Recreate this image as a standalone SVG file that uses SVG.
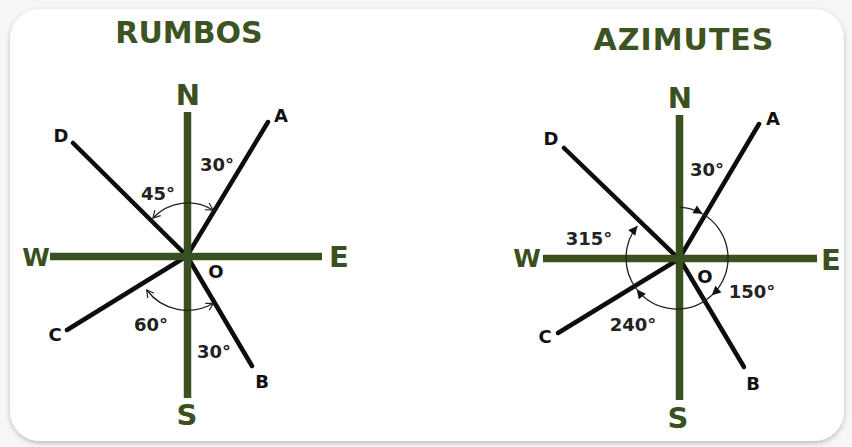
<svg xmlns="http://www.w3.org/2000/svg" width="852" height="447" viewBox="0 0 852 447">
  <defs>
    <filter id="sh" x="-5%" y="-5%" width="110%" height="110%">
      <feDropShadow dx="0" dy="2" stdDeviation="2.5" flood-color="#000" flood-opacity="0.25"/>
    </filter>
    <marker id="openArrow" markerUnits="userSpaceOnUse" markerWidth="12" markerHeight="12" viewBox="-9 -6 12 12" refX="0" refY="0" orient="auto-start-reverse">
      <path d="M-7,-4 L0,0 L-7,4" fill="none" stroke="#222" stroke-width="1.2"/>
    </marker>
    <marker id="fillArrow" markerUnits="userSpaceOnUse" markerWidth="12" markerHeight="12" viewBox="-10 -6 12 12" refX="0" refY="0" orient="auto">
      <path d="M-9,-4.5 L0,0 L-9,4.5 Z" fill="#111"/>
    </marker>
  </defs>
  <style>
    .axis { stroke: #3b5020; stroke-width: 7.5; fill: none; }
    .ray { stroke: #0d0d0d; stroke-width: 4.5; stroke-linecap: round; fill: none; }
    .arc { stroke: #222; stroke-width: 1.3; fill: none; }
    .title { font-family: "DejaVu Sans", sans-serif; font-weight: bold; font-size: 30px; fill: #3d5322; text-anchor: middle; }
    .card { font-family: "DejaVu Sans", sans-serif; font-weight: bold; font-size: 29px; fill: #3b5020; text-anchor: middle; }
    .pt { font-family: "DejaVu Sans", sans-serif; font-weight: bold; font-size: 18px; fill: #111; text-anchor: middle; }
    .deg { font-family: "DejaVu Sans", sans-serif; font-weight: bold; font-size: 18px; fill: #222; text-anchor: middle; }
  </style>

  <rect x="0" y="0" width="852" height="447" fill="#f6f6f6"/>
  <rect x="10" y="9" width="834" height="432" rx="30" ry="30" fill="#ffffff" filter="url(#sh)"/>

  <!-- Left diagram: RUMBOS -->
  <g id="rumbos">
    <text class="title" x="189" y="43">RUMBOS</text>
    <g id="rumbos-connectors">
      <line class="ray" x1="187" y1="256" x2="268" y2="122"/>
      <line class="ray" x1="73" y1="143" x2="187" y2="256"/>
      <line class="ray" x1="67" y1="330" x2="187" y2="256"/>
      <line class="ray" x1="187" y1="256" x2="252" y2="366"/>
      <line class="axis" x1="187.5" y1="112" x2="187.5" y2="398"/>
      <line class="axis" x1="50" y1="256.5" x2="322" y2="256.5"/>
      <path class="arc" d="M153,218 A48,48 0 0 1 213,210" marker-start="url(#openArrow)" marker-end="url(#openArrow)"/>
      <path class="arc" d="M146.7,290 A51,51 0 0 0 213.3,303.3" marker-start="url(#openArrow)" marker-end="url(#openArrow)"/>
    </g>
    <g id="rumbos-labels">
      <text class="card" x="188" y="105">N</text>
      <text class="card" x="187" y="425">S</text>
      <text class="card" x="339" y="267">E</text>
      <text class="card" x="36" y="266" style="font-size:25px">W</text>
      <text class="pt" x="281" y="122">A</text>
      <text class="pt" x="262" y="388">B</text>
      <text class="pt" x="55" y="341">C</text>
      <text class="pt" x="61" y="142">D</text>
      <text class="pt" x="216" y="278">O</text>
      <text class="deg" x="217" y="171">30°</text>
      <text class="deg" x="158" y="200">45°</text>
      <text class="deg" x="151" y="331">60°</text>
      <text class="deg" x="214" y="358">30°</text>
    </g>
  </g>

  <!-- Right diagram: AZIMUTES -->
  <g id="azimutes">
    <text class="title" x="684" y="50" style="letter-spacing:1px">AZIMUTES</text>
    <g id="azimutes-connectors">
      <line class="ray" x1="679" y1="259" x2="759" y2="124"/>
      <line class="ray" x1="564" y1="148" x2="679" y2="259"/>
      <line class="ray" x1="558" y1="333" x2="679" y2="259"/>
      <line class="ray" x1="681" y1="261" x2="744" y2="367"/>
      <line class="axis" x1="679.5" y1="115" x2="679.5" y2="400"/>
      <line class="axis" x1="543" y1="258.5" x2="817" y2="258.5"/>
      <path class="arc" d="M679.7,207.1 A51,51 0 0 1 702.5,213.8" marker-end="url(#fillArrow)"/>
      <path class="arc" d="M702.5,213.8 A51,51 0 0 1 711.8,295.3" marker-end="url(#fillArrow)"/>
      <path class="arc" d="M711.8,295.3 A51,51 0 0 1 636.8,289.4" marker-end="url(#fillArrow)"/>
      <path class="arc" d="M636.8,289.4 A51,51 0 0 1 637.4,225.9" marker-end="url(#fillArrow)"/>
    </g>
    <g id="azimutes-labels">
      <text class="card" x="680" y="108">N</text>
      <text class="card" x="678" y="428">S</text>
      <text class="card" x="831" y="270">E</text>
      <text class="card" x="527" y="267" style="font-size:25px">W</text>
      <text class="pt" x="773" y="125">A</text>
      <text class="pt" x="753" y="390">B</text>
      <text class="pt" x="545" y="343">C</text>
      <text class="pt" x="551" y="145">D</text>
      <text class="pt" x="705" y="283">O</text>
      <text class="deg" x="707" y="176">30°</text>
      <text class="deg" x="589" y="245">315°</text>
      <text class="deg" x="752" y="298">150°</text>
      <text class="deg" x="633" y="331">240°</text>
    </g>
  </g>
</svg>
